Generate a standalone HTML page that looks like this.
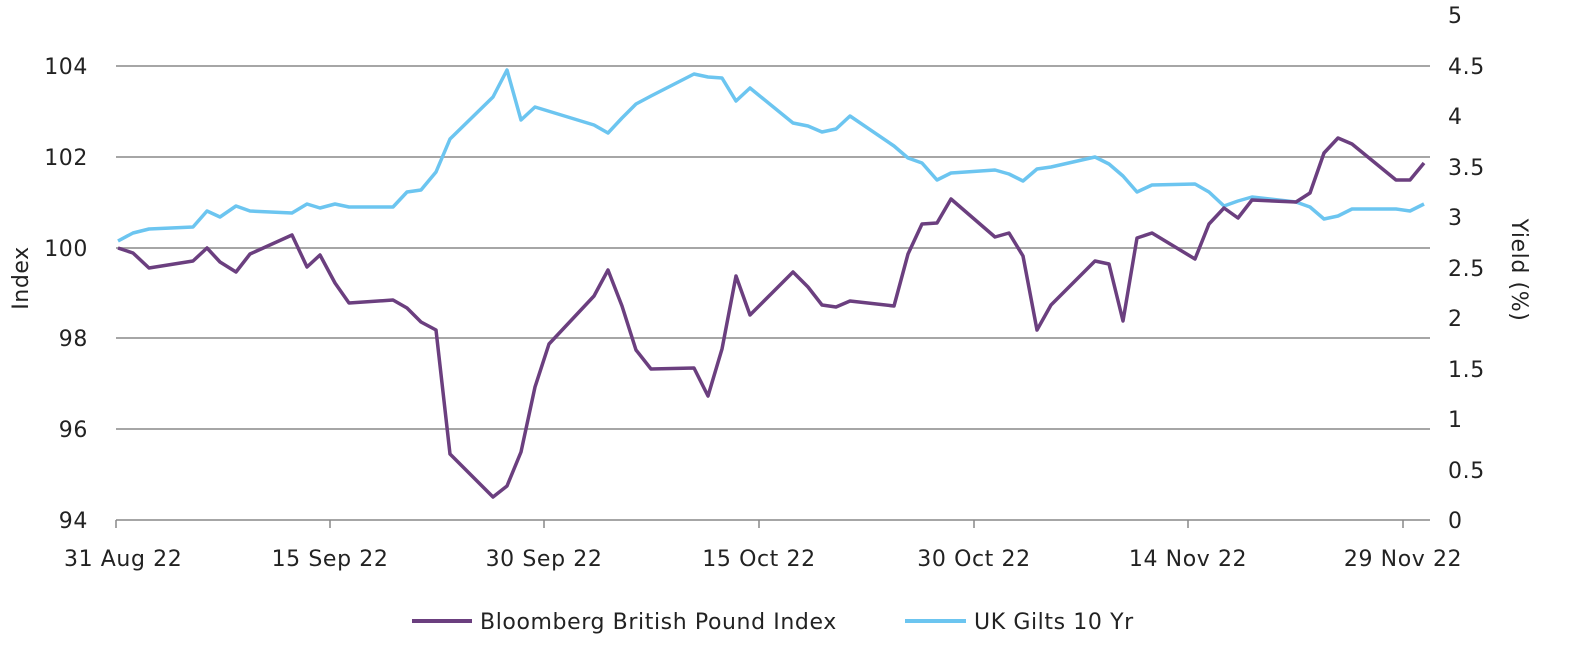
<!DOCTYPE html>
<html><head><style>
html,body{margin:0;padding:0;background:#fff;}
svg text{font-family:"DejaVu Sans","Liberation Sans",sans-serif;font-size:22px;letter-spacing:0.6px;fill:#222;}
</style></head><body>
<svg width="1586" height="659" xmlns="http://www.w3.org/2000/svg">
<g stroke="#a6a6a6" stroke-width="2">
<line x1="116" y1="66" x2="1430" y2="66"/>
<line x1="116" y1="157" x2="1430" y2="157"/>
<line x1="116" y1="248" x2="1430" y2="248"/>
<line x1="116" y1="338" x2="1430" y2="338"/>
<line x1="116" y1="429" x2="1430" y2="429"/>
</g>
<g stroke="#888" stroke-width="1.5">
<line x1="116" y1="520" x2="1430" y2="520"/>
<line x1="116" y1="520" x2="116" y2="528"/>
<line x1="330" y1="520" x2="330" y2="528"/>
<line x1="544" y1="520" x2="544" y2="528"/>
<line x1="759" y1="520" x2="759" y2="528"/>
<line x1="974" y1="520" x2="974" y2="528"/>
<line x1="1188" y1="520" x2="1188" y2="528"/>
<line x1="1403" y1="520" x2="1403" y2="528"/>
</g>
<g text-anchor="end">
<text x="88" y="74">104</text><text x="88" y="165">102</text><text x="88" y="256">100</text>
<text x="88" y="346">98</text><text x="88" y="437">96</text><text x="88" y="528">94</text>
</g>
<g text-anchor="start">
<text x="1448" y="23">5</text><text x="1448" y="74">4.5</text><text x="1448" y="124">4</text>
<text x="1448" y="175">3.5</text><text x="1448" y="225">3</text><text x="1448" y="276">2.5</text>
<text x="1448" y="326">2</text><text x="1448" y="377">1.5</text><text x="1448" y="427">1</text>
<text x="1448" y="478">0.5</text><text x="1448" y="528">0</text>
</g>
<g text-anchor="middle">
<text x="64" y="566" text-anchor="start">31 Aug 22</text><text x="330" y="566">15 Sep 22</text><text x="544" y="566">30 Sep 22</text>
<text x="759" y="566">15 Oct 22</text><text x="974" y="566">30 Oct 22</text><text x="1188" y="566">14 Nov 22</text>
<text x="1403" y="566">29 Nov 22</text>
</g>
<text transform="translate(28,278) rotate(-90)" text-anchor="middle">Index</text>
<text transform="translate(1512,270) rotate(90)" text-anchor="middle">Yield (%)</text>
<polyline fill="none" stroke="#6cc5f0" stroke-width="3.5" stroke-linejoin="round" points="118,241 133,233 149,229 193,227 207,211 220,217 236,206 250,211 292,213 307,204 320,208 335,204 349,207 393,207 407,192 421,190 436,172 450,139 493,97 507,70 521,120 535,107 594,125 608,133 622,118 636,104 651,96 694,74 708,77 722,78 736,101 750,88 793,123 808,126 822,132 836,129 850,116 894,146 908,158 922,163 937,180 951,173 995,170 1009,174 1023,181 1037,169 1051,167 1095,157 1109,164 1123,176 1137,192 1152,185 1195,184 1209,192 1224,206 1238,201 1252,197 1296,202 1310,207 1324,219 1338,216 1352,209 1396,209 1410,211 1424,204"/>
<polyline fill="none" stroke="#6b3f7f" stroke-width="3.5" stroke-linejoin="round" points="118,248 133,253 149,268 193,261 207,248 220,262 236,272 250,254 292,235 307,267 320,255 335,283 349,303 393,300 407,308 421,322 436,330 450,454 493,497 507,486 521,452 535,387 549,344 594,296 608,270 622,306 636,350 651,369 694,368 708,396 722,349 736,276 750,315 793,272 808,287 822,305 836,307 850,301 894,306 908,254 922,224 937,223 951,199 995,237 1009,233 1023,256 1037,330 1051,305 1095,261 1109,264 1123,321 1137,238 1152,233 1195,259 1209,224 1224,208 1238,218 1252,200 1296,202 1310,193 1324,153 1338,138 1352,144 1396,180 1410,180 1424,163"/>
<line x1="412" y1="621" x2="472" y2="621" stroke="#6b3f7f" stroke-width="4"/>
<text x="480" y="629">Bloomberg British Pound Index</text>
<line x1="905" y1="621" x2="966" y2="621" stroke="#6cc5f0" stroke-width="4"/>
<text x="974" y="629">UK Gilts 10 Yr</text>
</svg>
</body></html>
